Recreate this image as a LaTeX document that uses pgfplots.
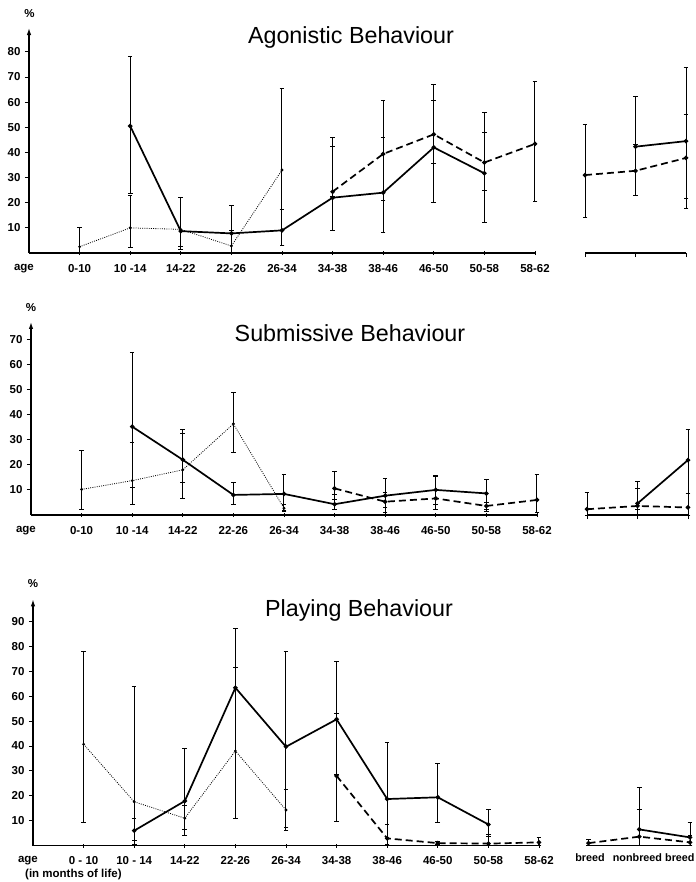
\documentclass[border=0pt]{standalone}
\usepackage{fontspec}
\setmainfont{Liberation Sans}
\usepackage{pgfplots}
\usepackage{pgfplotstable}
\pgfplotsset{compat=1.18}
\usetikzlibrary{arrows.meta}

\newcommand{\lbl}{\bfseries\fontsize{11.5bp}{13bp}\selectfont}
\newcommand{\slbl}{\bfseries\fontsize{10.8bp}{13bp}\selectfont}
\newcommand{\ttl}{\fontsize{23.3bp}{26bp}\selectfont}

\pgfplotsset{
  base/.style={
    scale only axis, ymin=0, clip=false, anchor=south west,
    axis x line=bottom, x axis line style={-},
    axis line style={line width=1.2bp},
    tick style={black, line width=0.9bp},
    major tick length=4bp,
    ticklabel style={font=\lbl},
    /pgf/number format/assume math mode=true,
    xticklabel style={anchor=base, yshift=-17bp},
  },
  panel/.style={base,
    width=506bp, xmin=-1, xmax=9,
    axis y line=left,
    y axis line style={-{Latex[length=7bp,width=4.5bp]}},
    xtick={0,...,9},
    ytick align=outside, xtick align=center,
    yticklabel style={xshift=-1bp},
  },
  side/.style={base,
    width=101bp, xmin=0, xmax=2,
    axis y line=none,
    xtick={0,1,2}, xticklabels={},
  },
  eb/.style={
    error bars/y dir=both, error bars/y explicit,
    error bars/error bar style={solid, black, line width=1bp},
    error bars/error mark options={rotate=90, black, solid, mark size=2.3bp, line width=1bp},
  },
  sol/.style={black, line width=1.7bp, mark=*, mark size=1.3bp, mark options={solid}, eb},
  das/.style={black, line width=1.7bp, dash pattern=on 7bp off 4bp, mark=*, mark size=1.3bp, mark options={solid}, eb},
  dot/.style={black, line width=0.8bp, dash pattern=on 0.9bp off 1.3bp, mark=*, mark size=1bp, mark options={solid}, eb},
}

% ---------- Agonistic
\pgfplotstableread{
x y lo hi
0 2.5 0 10
1 10 2 23
2 9.4 1.5 22
3 2.8 0 9
4 33 3 65.5
}\agDot
\pgfplotstableread{
x y lo hi
1 50.5 23.5 78
2 8.7 2.4 22
3 7.8 0 19
4 9 3 17.5
5 22 9 46
6 24 8 60.6
7 42 20 67
8 31.7 12 56
}\agSol
\pgfplotstableread{
x y lo hi
5 24.4 22.4 42.3
6 39.4 21 46
7 47.2 35.7 60.6
8 36 24.7 48
9 43.4 20.4 68.4
}\agDas
\pgfplotstableread{
x y lo hi
0 31 14.2 51.3
1 32.7 23 43.2
2 37.8 21.8 55
}\agDasR
\pgfplotstableread{
x y lo hi
1 42.3 22.8 62.2
2 44.5 17.8 73.7
}\agSolR

% ---------- Submissive
\pgfplotstableread{
x y lo hi
0 10.2 2 25.9
1 13.7 4 29
2 18 6.4 33.9
3 36.3 25 48.7
4 2.7 1.5 4
}\suDot
\pgfplotstableread{
x y lo hi
1 35.2 11 64.8
2 22 13 32.5
3 8 4.3 12.9
4 8.4 1.7 16.2
5 4.3 2 8
6 7.7 1 14.6
7 10 2 15.7
8 8.6 1.5 14.2
}\suSol
\pgfplotstableread{
x y lo hi
5 10.6 6 17.3
6 5.3 3 9
7 6.6 4 15.5
8 3.6 2 5
9 6 1 16.2
}\suDas
\pgfplotstableread{
x y lo hi
0 2.3 0 9
1 3.6 2 10.6
2 3 0 8.4
}\suDasR
\pgfplotstableread{
x y lo hi
1 4.6 0 13.3
2 21.9 8.4 34
}\suSolR

% ---------- Playing
\pgfplotstableread{
x y lo hi
0 40.7 9.4 78.1
1 17.6 0.5 63.8
2 11 6.5 16
3 38 10.7 71.5
4 14.3 6 22.6
}\plDot
\pgfplotstableread{
x y lo hi
1 6 2 10.7
2 17.9 4 39
3 63.4 10.7 87
4 39.7 7.3 78
5 50.7 28.6 73.8
6 18.7 0.5 41.5
7 19.4 9.4 32.8
8 8.5 3.6 14.3
}\plSol
\pgfplotstableread{
x y lo hi
5 28 9.6 53
6 2.9 0.5 8.5
7 1 0.5 1.5
8 0.8 0 4.3
9 1.3 0 3.2
}\plDas
\pgfplotstableread{
x y lo hi
0 1 0 2.5
1 3.6 0 14.3
2 1.3 0 4
}\plDasR
\pgfplotstableread{
x y lo hi
1 6.5 0 23.3
2 3.3 0 9.4
}\plSolR

\begin{document}
\begin{tikzpicture}
\path[use as bounding box] (0,0) rectangle (696bp,-882bp);

% titles and labels
\node[anchor=base, font=\ttl] at (351bp,-43.3bp) {Agonistic Behaviour};
\node[anchor=base, font=\ttl] at (350bp,-341.7bp) {Submissive Behaviour};
\node[anchor=base, font=\ttl] at (359bp,-616.7bp) {Playing Behaviour};
\node[font=\lbl] at (29.5bp,-14bp) {\%};
\node[font=\lbl] at (31bp,-308bp) {\%};
\node[font=\lbl] at (33bp,-584bp) {\%};
\node[anchor=base west, font=\lbl] at (21.7bp,-877bp) {(in months of life)};

% ===== Agonistic
\begin{axis}[panel, at={(29bp,-253bp)}, height=225bp, ymax=89.5,
  ytick={10,20,...,80},
  xticklabels={0-10,10 -14,14-22,22-26,26-34,34-38,38-46,46-50,50-58,58-62}]
  \addplot[dot] table[x=x, y=y, y error plus expr=\thisrow{hi}-\thisrow{y}, y error minus expr=\thisrow{y}-\thisrow{lo}] {\agDot};
  \addplot[sol] table[x=x, y=y, y error plus expr=\thisrow{hi}-\thisrow{y}, y error minus expr=\thisrow{y}-\thisrow{lo}] {\agSol};
  \addplot[das] table[x=x, y=y, y error plus expr=\thisrow{hi}-\thisrow{y}, y error minus expr=\thisrow{y}-\thisrow{lo}] {\agDas};
  \node[anchor=base, font=\lbl, yshift=-17bp] at (axis cs:-1.1,0) {age};
\end{axis}
\begin{axis}[side, at={(585bp,-253bp)}, height=225bp, ymax=89.5,
  xtick align=outside]
  \addplot[das] table[x=x, y=y, y error plus expr=\thisrow{hi}-\thisrow{y}, y error minus expr=\thisrow{y}-\thisrow{lo}] {\agDasR};
  \addplot[sol] table[x=x, y=y, y error plus expr=\thisrow{hi}-\thisrow{y}, y error minus expr=\thisrow{y}-\thisrow{lo}] {\agSolR};
\end{axis}

% ===== Submissive
\begin{axis}[panel, at={(31bp,-515bp)}, height=193bp, ymax=76.9,
  ytick={10,20,...,70},
  xticklabels={0-10,10 -14,14-22,22-26,26-34,34-38,38-46,46-50,50-58,58-62}]
  \addplot[dot] table[x=x, y=y, y error plus expr=\thisrow{hi}-\thisrow{y}, y error minus expr=\thisrow{y}-\thisrow{lo}] {\suDot};
  \addplot[sol] table[x=x, y=y, y error plus expr=\thisrow{hi}-\thisrow{y}, y error minus expr=\thisrow{y}-\thisrow{lo}] {\suSol};
  \addplot[das] table[x=x, y=y, y error plus expr=\thisrow{hi}-\thisrow{y}, y error minus expr=\thisrow{y}-\thisrow{lo}] {\suDas};
  \node[anchor=base, font=\lbl, yshift=-17bp] at (axis cs:-1.1,0) {age};
\end{axis}
\begin{axis}[side, at={(587bp,-515bp)}, height=193bp, ymax=76.9,
  xtick align=outside]
  \addplot[das] table[x=x, y=y, y error plus expr=\thisrow{hi}-\thisrow{y}, y error minus expr=\thisrow{y}-\thisrow{lo}] {\suDasR};
  \addplot[sol] table[x=x, y=y, y error plus expr=\thisrow{hi}-\thisrow{y}, y error minus expr=\thisrow{y}-\thisrow{lo}] {\suSolR};
\end{axis}

% ===== Playing
\begin{axis}[panel, at={(33bp,-845.6bp)}, height=246.3bp, ymax=98.9,
  ytick={10,20,...,90},
  xticklabels={0 - 10,10 - 14,14-22,22-26,26-34,34-38,38-46,46-50,50-58,58-62}]
  \addplot[dot] table[x=x, y=y, y error plus expr=\thisrow{hi}-\thisrow{y}, y error minus expr=\thisrow{y}-\thisrow{lo}] {\plDot};
  \addplot[sol] table[x=x, y=y, y error plus expr=\thisrow{hi}-\thisrow{y}, y error minus expr=\thisrow{y}-\thisrow{lo}] {\plSol};
  \addplot[das] table[x=x, y=y, y error plus expr=\thisrow{hi}-\thisrow{y}, y error minus expr=\thisrow{y}-\thisrow{lo}] {\plDas};
  \node[anchor=base, font=\lbl, yshift=-17bp] at (axis cs:-1.1,0) {age};
\end{axis}
\begin{axis}[side, at={(588.5bp,-845.6bp)}, width=101.5bp, height=246.3bp, ymax=98.9,
  xtick align=inside]
  \addplot[das] table[x=x, y=y, y error plus expr=\thisrow{hi}-\thisrow{y}, y error minus expr=\thisrow{y}-\thisrow{lo}] {\plDasR};
  \addplot[sol] table[x=x, y=y, y error plus expr=\thisrow{hi}-\thisrow{y}, y error minus expr=\thisrow{y}-\thisrow{lo}] {\plSolR};
  \node[anchor=base, font=\slbl, yshift=-16bp] at (axis cs:0.03,0) {breed};
  \node[anchor=base, font=\slbl, yshift=-16bp] at (axis cs:0.965,0) {nonbreed};
  \node[anchor=base, font=\slbl, yshift=-16bp] at (axis cs:1.80,0) {breed};
\end{axis}
\end{tikzpicture}
\end{document}
